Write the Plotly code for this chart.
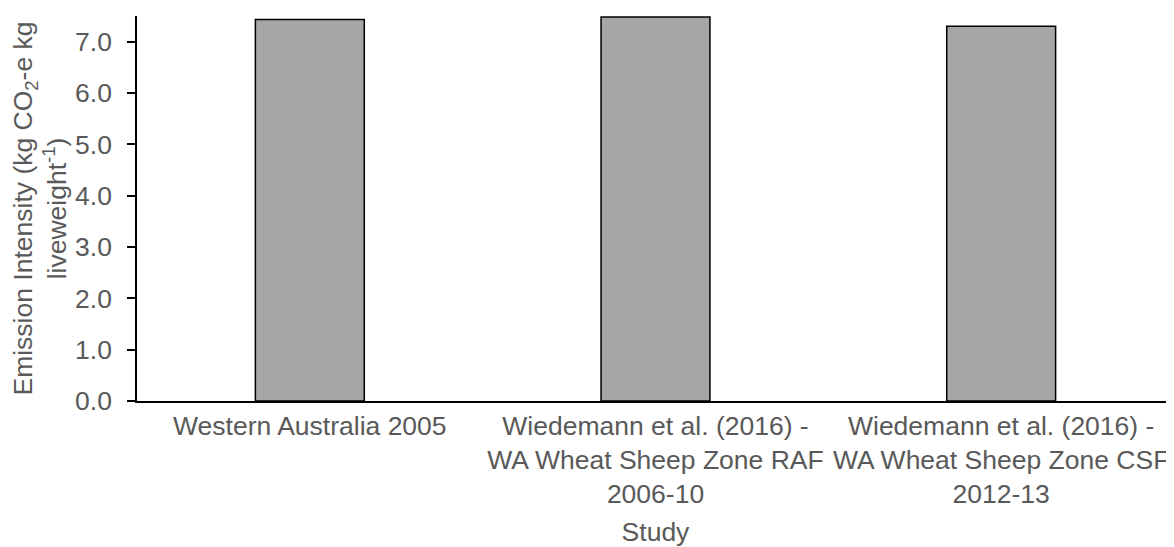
import plotly.graph_objects as go

studies = [
    "Western Australia 2005",
    "Wiedemann et al. (2016) -<br>WA Wheat Sheep Zone RAF<br>2006-10",
    "Wiedemann et al. (2016) -<br>WA Wheat Sheep Zone CSF<br>2012-13",
]
intensity = [7.43, 7.48, 7.30]

y_ticks = [0, 1, 2, 3, 4, 5, 6, 7]

font_family = "Liberation Sans, Arial, sans-serif"
grey_text = "#595959"
fs = 26.5

fig = go.Figure()

fig.add_trace(go.Bar(
    x=studies,
    y=intensity,
    marker=dict(color="#a6a6a6", line=dict(color="#000000", width=1.5)),
    width=0.315,
))

# page body has an 8px margin, so the figure is sized a little smaller
fig.update_layout(
    width=1166,
    height=539,
    plot_bgcolor="white",
    paper_bgcolor="white",
    showlegend=False,
    margin=dict(l=129, r=0, t=8, b=144),
    font=dict(family=font_family, size=fs, color=grey_text),
    xaxis=dict(
        showline=True,
        linecolor="#000000",
        linewidth=1.5,
        ticks="",
        tickfont=dict(size=fs, color=grey_text),
        title=dict(text="Study", font=dict(size=fs, color=grey_text), standoff=19),
    ),
    yaxis=dict(
        range=[0, 7.5],
        tickvals=y_ticks,
        tickformat=".1f",
        showline=True,
        linecolor="#000000",
        linewidth=1.5,
        ticks="outside",
        ticklen=8,
        tickcolor="#000000",
        tickwidth=1.5,
        showgrid=False,
        zeroline=False,
        ticklabelstandoff=10,
        tickfont=dict(size=fs, color=grey_text),
        title=dict(
            text="Emission Intensity (kg CO<sub>2</sub>-e kg<br>liveweight<sup>-1</sup>)",
            font=dict(size=fs, color=grey_text),
            standoff=5,
        ),
    ),
)

fig.write_html("out.html")
